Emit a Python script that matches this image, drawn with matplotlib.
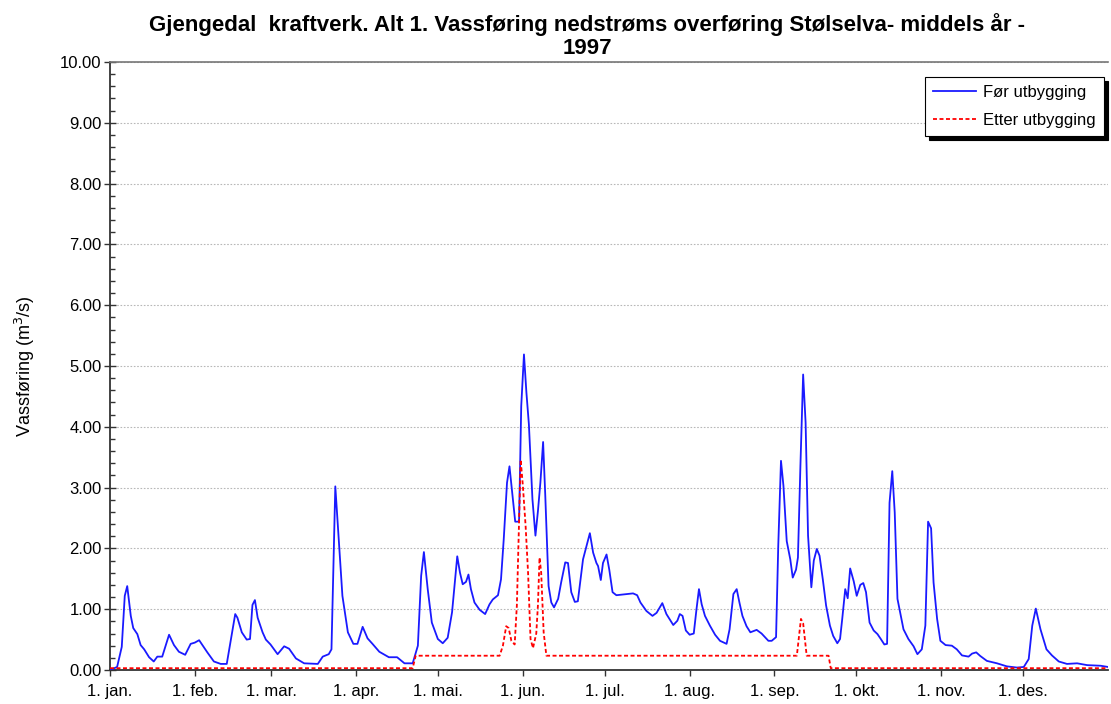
import matplotlib
matplotlib.use("Agg")
import matplotlib.pyplot as plt
from matplotlib.ticker import MultipleLocator, FormatStrFormatter

plt.rcParams['font.family'] = ['Liberation Sans', 'DejaVu Sans']

title = "Gjengedal  kraftverk. Alt 1. Vassføring nedstrøms overføring Stølselva- middels år -\n1997"
ylabel = "Vassføring (m$^3$/s)"
month_labels = ["1. jan.", "1. feb.", "1. mar.", "1. apr.", "1. mai.", "1. jun.",
                "1. jul.", "1. aug.", "1. sep.", "1. okt.", "1. nov.", "1. des."]
month_days = [0, 31, 59, 90, 120, 151, 181, 212, 243, 273, 304, 334]
series_names = ["Før utbygging", "Etter utbygging"]

# Før utbygging (day of year, flow m3/s)
for_days = [0, 2.6, 4.3, 5.4, 6.3, 7.6, 8.5, 10, 11.2, 12.5, 14.3, 16, 17.3, 19.1, 21.6, 23.4,
            25.2, 27.5, 29.5, 31, 32.6, 33.8, 35.6, 38, 40.5, 42.7, 45.8, 46.6, 48.2, 50, 51.2,
            52.1, 53, 54, 55.8, 57, 58.7, 61.3, 63.7, 65.5, 68, 71, 76, 77.8, 80, 81, 82.4, 85,
            87, 89, 90.5, 92.4, 94.2, 96, 98.5, 102, 105, 107.7, 110.7, 112.6, 113.8, 114.8,
            116.2, 117.7, 119.9, 121.7, 123.5, 125.1, 127, 128, 129, 130.2, 131.1, 132, 133.3,
            135.2, 137.2, 138.8, 140, 141.9, 143, 144, 145.2, 146.1, 147.1, 148.2, 149.6, 150.4,
            151.4, 152.3, 153.2, 154.5, 155.6, 156.5, 157.4, 158.4, 159.2, 160.4, 161.4, 162.4,
            163.9, 165, 166.5, 167.5, 168.7, 170, 171.1, 173, 174.3, 175.5, 176.7, 177.9, 178.5,
            179.5, 180.3, 181.6, 182.6, 183.8, 185.2, 191.3, 192.8, 194, 196.2, 198.4, 199.9,
            202, 203.5, 206, 207.5, 208.4, 209.4, 210.6, 212, 213.5, 214.5, 215.4, 216.4, 217.6,
            219.4, 221.3, 223.1, 225.5, 226.6, 228, 229.2, 230.2, 231.3, 232.8, 234.2, 236.5,
            238.3, 240.8, 242, 243.6, 244.4, 245.4, 246.3, 247.5, 248.8, 249.7, 250.9, 251.6,
            252.5, 253.5, 254.4, 255.3, 256.5, 257.4, 258.5, 259.5, 260.7, 261.9, 263.3, 264.5,
            266, 267, 267.8, 268.9, 269.8, 270.7, 272, 273.1, 274.4, 275.5, 276.5, 277.8, 279.3,
            280.7, 281.9, 283.2, 284.2, 285.1, 286.1, 287, 288, 289.3, 290.2, 292, 293.9, 295.3,
            296.9, 298.2, 299.2, 300.3, 301.2, 302.5, 303.7, 305.6, 307.9, 309.7, 311.6, 314,
            315.3, 316.8, 318.3, 320.7, 324.4, 328, 331.7, 334.2, 336, 337.3, 338.6, 340.3,
            342.5, 344.5, 347, 350, 353.7, 357.4, 362.3, 365]
for_vals = [0.0, 0.05, 0.38, 1.22, 1.38, 0.89, 0.69, 0.59, 0.41, 0.34, 0.21, 0.14, 0.22, 0.22,
            0.58, 0.41, 0.30, 0.25, 0.43, 0.45, 0.49, 0.41, 0.29, 0.14, 0.10, 0.10, 0.92, 0.86,
            0.62, 0.50, 0.51, 1.07, 1.15, 0.86, 0.62, 0.50, 0.42, 0.26, 0.39, 0.35, 0.19, 0.11,
            0.10, 0.22, 0.26, 0.34, 3.02, 1.22, 0.62, 0.43, 0.43, 0.71, 0.52, 0.43, 0.30, 0.21,
            0.21, 0.11, 0.11, 0.40, 1.55, 1.94, 1.33, 0.78, 0.51, 0.44, 0.53, 0.95, 1.87, 1.60,
            1.41, 1.45, 1.57, 1.33, 1.11, 0.99, 0.92, 1.08, 1.16, 1.23, 1.49, 2.15, 3.08, 3.35,
            2.92, 2.44, 2.44, 4.34, 5.19, 4.56, 4.04, 2.81, 2.21, 2.61, 3.08, 3.75, 2.86, 1.38,
            1.11, 1.03, 1.17, 1.44, 1.77, 1.76, 1.28, 1.12, 1.13, 1.82, 2.04, 2.25, 1.93, 1.76,
            1.71, 1.48, 1.76, 1.90, 1.65, 1.28, 1.23, 1.26, 1.23, 1.11, 0.97, 0.89, 0.94, 1.10,
            0.92, 0.74, 0.81, 0.92, 0.89, 0.65, 0.58, 0.60, 1.00, 1.33, 1.08, 0.89, 0.73, 0.58,
            0.48, 0.43, 0.67, 1.25, 1.33, 1.11, 0.89, 0.72, 0.62, 0.66, 0.60, 0.48, 0.48, 0.54,
            2.04, 3.44, 3.03, 2.12, 1.82, 1.52, 1.65, 1.85, 3.35, 4.86, 4.07, 2.21, 1.36, 1.80,
            1.99, 1.88, 1.49, 1.06, 0.73, 0.56, 0.44, 0.51, 0.84, 1.33, 1.18, 1.67, 1.46, 1.22,
            1.40, 1.43, 1.28, 0.78, 0.65, 0.59, 0.51, 0.42, 0.43, 2.75, 3.27, 2.59, 1.17, 0.87,
            0.67, 0.51, 0.39, 0.26, 0.34, 0.73, 2.44, 2.33, 1.44, 0.84, 0.48, 0.41, 0.40, 0.34,
            0.24, 0.22, 0.27, 0.29, 0.23, 0.15, 0.11, 0.06, 0.04, 0.05, 0.18, 0.73, 1.01, 0.67,
            0.34, 0.24, 0.14, 0.10, 0.11, 0.08, 0.07, 0.05]

# Etter utbygging
etter_days = [0, 110.7, 111.8, 142.5, 143.7, 144.9, 145.8, 146.8, 148, 148.8, 149.6, 150.2,
              151, 152, 152.9, 153.8, 154.7, 155.9, 156.5, 157.1, 157.7, 158.6, 159.6, 251.2,
              252.7, 253.5, 254.8, 262.8, 263.6, 365]
etter_vals = [0.03, 0.03, 0.235, 0.235, 0.40, 0.72, 0.69, 0.48, 0.42, 1.06, 2.43, 3.46, 3.03,
              2.37, 1.60, 0.51, 0.36, 0.60, 1.06, 1.85, 1.60, 0.62, 0.235, 0.235, 0.84, 0.77,
              0.235, 0.235, 0.03, 0.03]

fig = plt.figure(figsize=(11.11, 7.04), dpi=100)
ax = fig.add_axes([110/1111, 1 - 670/704, (1108 - 110)/1111, (670 - 62)/704])

ax.plot(for_days, for_vals, color='#1a1aff', lw=1.3, label=series_names[0], zorder=3)
ax.plot(etter_days, etter_vals, color='#ff0000', lw=1.3, dashes=(2.2, 1.4),
        label=series_names[1], zorder=4)

ax.set_xlim(0, 365)
ax.set_ylim(0, 10)
ax.yaxis.set_major_locator(MultipleLocator(1))
ax.yaxis.set_minor_locator(MultipleLocator(0.2))
ax.yaxis.set_major_formatter(FormatStrFormatter('%.2f'))
ax.set_xticks(month_days)
ax.set_xticklabels(month_labels)
ax.tick_params(axis='y', which='major', direction='inout', length=8, width=1, labelsize=12,
               pad=2, colors='#333333', labelcolor='black')
ax.tick_params(axis='y', which='minor', direction='in', length=3.5, width=1, colors='#333333')
ax.tick_params(axis='x', which='major', direction='out', length=4, width=1, labelsize=12,
               pad=6, colors='#333333', labelcolor='black')
ax.grid(axis='y', which='major', color='#b8b8b8', linestyle=(0, (1.5, 1.5)), lw=0.8)
ax.set_axisbelow(True)

for s in ['left', 'bottom']:
    ax.spines[s].set_color('#333333')
    ax.spines[s].set_linewidth(1.3)
ax.spines['top'].set_color('#777777')
ax.spines['top'].set_linewidth(1.2)
ax.spines['right'].set_visible(False)

ax.set_ylabel(ylabel, fontsize=13)
ax.yaxis.set_label_coords(-73/998, 0.5)

fig.text(587/1111, 1 - 13/704, title, ha='center', va='top', fontsize=16,
         fontweight='bold', linespacing=1.15)

leg = ax.legend(loc='upper right', bbox_to_anchor=(1 - 4/998, 1 - 15/608), fontsize=12,
                frameon=True, fancybox=False, edgecolor='black', handlelength=2.6,
                borderpad=0.5, labelspacing=0.75, handletextpad=0.4, borderaxespad=0,
                shadow={'color': 'black', 'alpha': 1.0, 'ox': 3, 'oy': -3})
leg.get_frame().set_linewidth(0.8)

fig.savefig("out.png", dpi=100)
